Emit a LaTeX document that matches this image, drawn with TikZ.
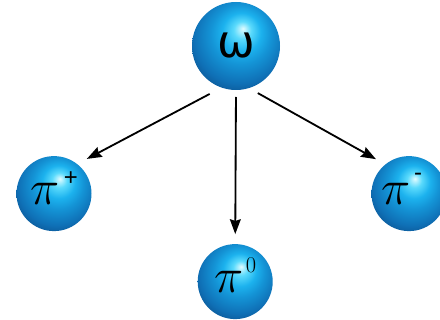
\RequirePackage{fix-cm}
\documentclass[tikz,border=0pt]{standalone}
\usepackage{fontspec}
\usepackage{tikz}
\usetikzlibrary{arrows.meta,shadings}
\newfontfamily\omegafont{DejaVu Sans}
\newfontfamily\signfont{Liberation Sans}
\definecolor{glint}{RGB}{225,252,255}
\definecolor{brightblue}{RGB}{90,218,252}
\definecolor{skyblue}{RGB}{28,178,238}
\definecolor{mesonblue}{RGB}{20,148,214}
\definecolor{midblue}{RGB}{15,112,182}
\definecolor{deepblue}{RGB}{10,70,128}
\pgfdeclareradialshading{mesonball}{\pgfpoint{4bp}{10bp}}{%
  color(0bp)=(glint); color(5bp)=(brightblue); color(11bp)=(skyblue);
  color(17bp)=(mesonblue); color(26bp)=(midblue); color(35bp)=(deepblue);
  color(50bp)=(deepblue)}

\begin{document}
\begin{tikzpicture}[
  ball/.style={circle, inner sep=0pt, outer sep=0pt, shading=mesonball},
  heavy/.style={ball, minimum size=2.2cm},
  light/.style={ball, minimum size=1.875cm},
  decay/.style={-{Stealth[length=0.37cm, width=0.27cm, inset=0.04cm]}, line width=1.3pt, black}
]
\clip (0,0) rectangle (11,-8);
\node[heavy] (omega) at (5.9,-1.15) {\fontsize{32}{32}\selectfont\omegafont ω};
\foreach \nm/\x/\y/\gap/\lift/\up in {
  pip/1.35/-4.84/0.12cm/0.46cm/{\fontsize{17}{17}\selectfont\signfont +},
  piz/5.88/-7.04/0.06cm/0.5cm/{\fontsize{16}{16}\selectfont$\mathrm{0}$},
  pim/10.225/-4.84/0.1cm/0.58cm/{\fontsize{17}{17}\selectfont\signfont -}
} {
  \node[light] (\nm) at (\x,\y) {\fontsize{35}{35}\selectfont$\pi$\hspace{\gap}\smash{\raisebox{\lift}{\up}}};
}
\draw[decay, shorten <=0.34cm, shorten >=0.275cm] (omega.251) -- (pip.52);
\draw[decay, shorten <=0.175cm, shorten >=0.25cm] (omega.270) -- (piz.90);
\draw[decay, shorten <=0.255cm, shorten >=0.27cm] (omega.287) -- (pim.129);
\end{tikzpicture}
\end{document}
